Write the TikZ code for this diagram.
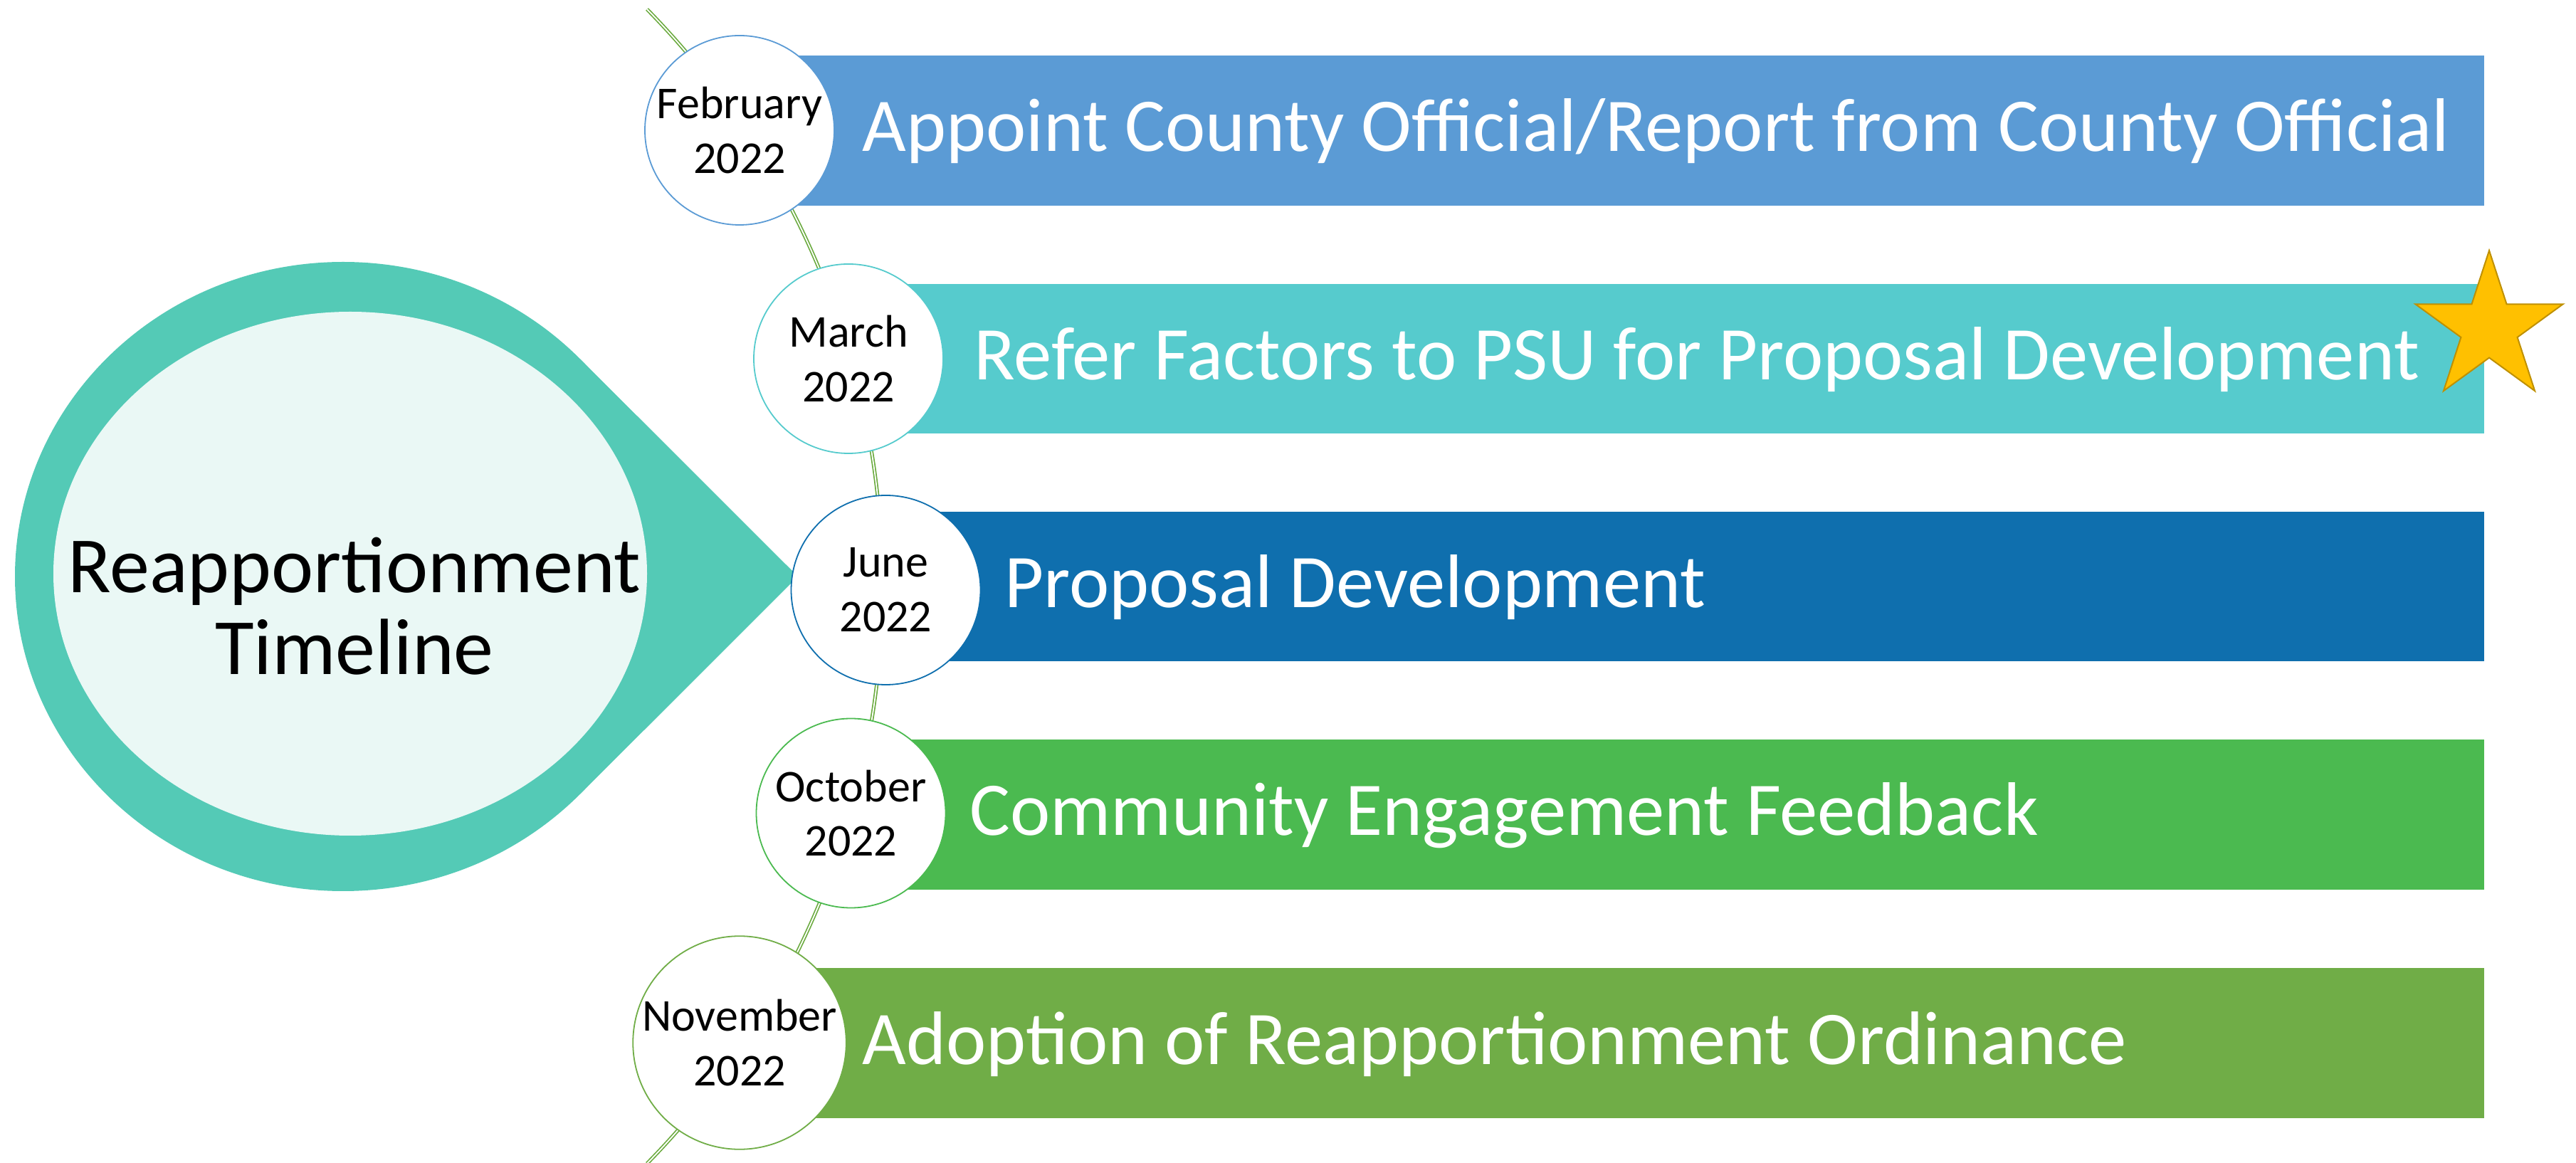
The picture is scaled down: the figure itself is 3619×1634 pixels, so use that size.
\documentclass[tikz,border=0pt]{standalone}
\usepackage{fontspec}
\setmainfont{Carlito}
\usetikzlibrary{calc}
\definecolor{cOne}{HTML}{5B9BD5}
\definecolor{cTwo}{HTML}{56CBCD}
\definecolor{cThree}{HTML}{0F6FAE}
\definecolor{cFour}{HTML}{4BBA50}
\definecolor{cFive}{HTML}{70AD47}
\definecolor{tealdrop}{HTML}{54CAB6}
\definecolor{innerfill}{HTML}{EAF8F5}
\definecolor{arcgreen}{HTML}{6AAA3E}
\definecolor{starfill}{HTML}{FFC000}
\definecolor{stardraw}{HTML}{BF9000}
\tikzset{
  datecircle/.style={circle, draw=#1, fill=white, line width=0.45pt, minimum size=66.5pt, inner sep=0pt, align=center, font=\fontsize{16}{19.2}\selectfont},
  bartext/.style={anchor=base west, inner sep=0pt, text=white, font=\fontsize{26.65}{30}\selectfont},
  timeline/.style={draw=arcgreen, double=white, line width=0.42pt, double distance=0.45pt},
  titletext/.style={align=center, inner sep=0pt, font=\fontsize{28}{28.75}\selectfont},
  starshape/.style={fill=starfill, draw=stardraw, line width=0.5pt, line join=miter},
}
\begin{document}
\begin{tikzpicture}[x=0.25pt, y=-0.25pt]
\useasboundingbox (0,0) rectangle (3619,1634);
% teardrop
\coordinate (dropc) at (482,810);
\coordinate (droptip) at (1121,810);
\fill[tealdrop] (dropc) ellipse [x radius=461, y radius=442];
\fill[tealdrop] (dropc) -- ($(dropc)+(-43.8:461 and 442)$) -- (droptip) -- ($(dropc)+(43.8:461 and 442)$) -- cycle;
\fill[innerfill] (492,806) ellipse [x radius=417, y radius=368];
% timeline arc
\coordinate (arctop) at (909,13);
\draw[timeline] (arctop) arc[start angle=-44.4, end angle=44.4, radius=1159] coordinate (arcbot);
% bars
\fill[cOne] (1039,78) rectangle (3490,289);
\fill[cTwo] (1192,399) rectangle (3490,609);
\fill[cThree] (1244,719) rectangle (3490,929);
\fill[cFour] (1195,1039) rectangle (3490,1250);
\fill[cFive] (1039,1360) rectangle (3490,1571);
% circles
\node[datecircle=cOne] (d1) at (1039,183) {February\\2022};
\node[datecircle=cTwo] (d2) at (1192,504) {March\\2022};
\node[datecircle=cThree] (d3) at (1244.5,829) {June\\2022};
\node[datecircle=cFour] (d4) at (1195.5,1142.5) {October\\2022};
\node[datecircle=cFive] (d5) at (1039,1465) {November\\2022};
% bar texts
\node[bartext] (t1) at (1211,213) {Appoint County Official/Report from County Official};
\node[bartext] (t2) at (1368,534) {Refer Factors to PSU for Proposal Development};
\node[bartext] (t3) at (1411,854) {Proposal Development};
\node[bartext] (t4) at (1362,1174) {Community Engagement Feedback};
\node[bartext] (t5) at (1211,1495) {Adoption of Reapportionment Ordinance};
% title
\node[titletext] (title) at (498,852) {Reapportionment\\Timeline};
% star
\draw[starshape] (3497,352) -- (3521.5,427.3) -- (3600.7,427.3) -- (3536.6,473.9) -- (3561.1,549.2) -- (3497,502.6) -- (3432.9,549.2) -- (3457.4,473.9) -- (3393.3,427.3) -- (3472.5,427.3) -- cycle;
\end{tikzpicture}
\end{document}
